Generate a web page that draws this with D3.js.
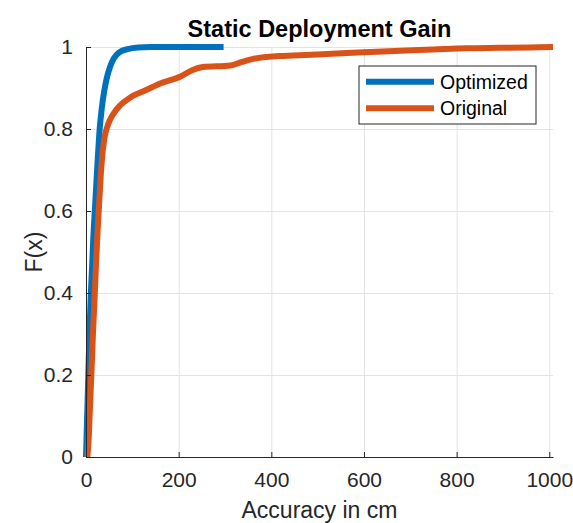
<!DOCTYPE html>
<html>
<head>
<meta charset="utf-8">
<script src="https://cdn.jsdelivr.net/npm/d3@7"></script>
<style>
  body { margin: 0; background: #fff; }
  text { font-family: "Liberation Sans", Arial, sans-serif; fill: #262626; }
</style>
</head>
<body>
<div id="chart-area"></div>
<script>
// CDF points: [accuracy in cm, F(x)]
var optimized = [
	[0, 0], [2, 0.08], [5, 0.2], [8, 0.32], [10.5, 0.4], [13, 0.46], [16, 0.54], [19, 0.6],
	[24, 0.7], [29.5, 0.8], [34, 0.85], [39, 0.89], [45, 0.925], [52, 0.952], [60, 0.972],
	[72, 0.987], [90, 0.995], [112, 0.999], [140, 1.0], [297, 1.0]
];
var original = [
	[3, 0], [6, 0.05], [8.5, 0.12], [11.5, 0.2], [15, 0.3], [19, 0.4], [22, 0.48], [25, 0.55],
	[29, 0.63], [32, 0.69], [36, 0.745], [41, 0.785], [48, 0.812], [58, 0.835], [74, 0.858],
	[96, 0.877], [130, 0.895], [160, 0.911], [204, 0.928], [230, 0.944], [252, 0.951],
	[312, 0.955], [335, 0.963], [361, 0.971], [419, 0.978], [463, 0.98], [500, 0.982],
	[600, 0.987], [679, 0.991], [750, 0.994], [822, 0.997], [894, 0.998], [960, 0.999], [1008, 1.0]
];
var seriesNames = ["Optimized", "Original"];
var seriesColors = ["#0072BD", "#D95319"];
var xTicks = [0, 200, 400, 600, 800, 1000];
var yTicks = [0, 0.2, 0.4, 0.6, 0.8, 1];

var margins = { top: 47, bottom: 66, left: 86, right: 20 };
var W = 573, H = 523;
var width = W - margins.left - margins.right;
var height = H - margins.top - margins.bottom;

var svg = d3.select("#chart-area")
	.append("svg")
		.attr("width", W)
		.attr("height", H);

var g = svg.append("g")
	.attr("transform", `translate(${margins.left}, ${margins.top})`);

var x = d3.scaleLinear().domain([0, 1008]).range([0, width]);
var y = d3.scaleLinear().domain([0, 1]).range([height, 0]);

// grid
g.append("g")
	.attr("transform", "translate(0," + height + ")")
	.call(d3.axisBottom(x).tickValues(xTicks.slice(1)).tickSize(-height).tickFormat(""))
	.call(s => s.select(".domain").remove())
	.selectAll("line").attr("stroke", "#e3e3e3");
g.append("g")
	.call(d3.axisLeft(y).tickValues(yTicks.slice(1)).tickSize(-width).tickFormat(""))
	.call(s => s.select(".domain").remove())
	.selectAll("line").attr("stroke", "#e3e3e3");

// lines
var line = d3.line()
	.x(d => x(d[0]))
	.y(d => y(d[1]))
	.curve(d3.curveMonotoneX);

[optimized, original].forEach(function(data, i) {
	g.append("path")
		.datum(data)
		.attr("fill", "none")
		.attr("stroke", seriesColors[i])
		.attr("stroke-width", 6)
		.attr("stroke-linejoin", "round")
		.attr("d", line);
});

// axes
var xAxis = g.append("g")
	.attr("transform", "translate(0," + height + ")")
	.call(d3.axisBottom(x).tickValues(xTicks).tickSizeInner(-5).tickSizeOuter(0).tickPadding(15)
		.tickFormat(d => String(d)));
var yAxis = g.append("g")
	.call(d3.axisLeft(y).tickValues(yTicks).tickSizeInner(-5).tickSizeOuter(0).tickPadding(13)
		.tickFormat(d => String(+d.toFixed(1))));

[xAxis, yAxis].forEach(function(a) {
	a.select(".domain").attr("stroke", "#262626");
	a.selectAll(".tick line").attr("stroke", "#262626");
	a.selectAll(".tick text")
		.attr("font-size", "21px")
		.attr("font-family", "Liberation Sans, Arial, sans-serif");
});

// labels
g.append("text")
	.attr("x", width / 2)
	.attr("y", -10)
	.attr("text-anchor", "middle")
	.attr("font-size", "23.5px")
	.attr("font-weight", "bold")
	.style("fill", "#000")
	.text("Static Deployment Gain");

g.append("text")
	.attr("x", width / 2)
	.attr("y", height + 61)
	.attr("text-anchor", "middle")
	.attr("font-size", "23px")
	.text("Accuracy in cm");

g.append("text")
	.attr("x", -height / 2)
	.attr("y", -44)
	.attr("text-anchor", "middle")
	.attr("font-size", "23px")
	.attr("transform", "rotate(-90)")
	.text("F(x)");

// legend
var legend = svg.append("g").attr("transform", "translate(359, 66)");
legend.append("rect")
	.attr("width", 177)
	.attr("height", 58)
	.attr("fill", "#fff")
	.attr("stroke", "#262626")
	.attr("stroke-width", 1);

seriesNames.forEach(function(name, i) {
	var ly = 15.7 + i * 26.6;
	legend.append("line")
		.attr("x1", 7).attr("x2", 75)
		.attr("y1", ly).attr("y2", ly)
		.attr("stroke", seriesColors[i])
		.attr("stroke-width", 6);
	legend.append("text")
		.attr("x", 81)
		.attr("y", ly + 7)
		.attr("font-size", "19.5px")
		.style("fill", "#000")
		.text(name);
});
</script>
</body>
</html>
